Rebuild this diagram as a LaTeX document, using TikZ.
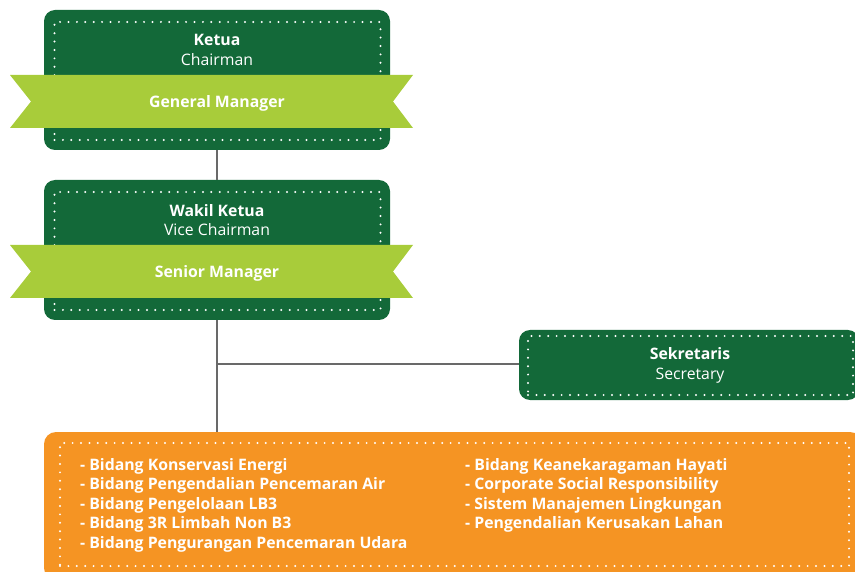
\documentclass[tikz,border=0pt]{standalone}
\usepackage{fontspec}
\setmainfont{Open Sans}
\usetikzlibrary{positioning}
\definecolor{boardgreen}{RGB}{19,105,57}
\definecolor{ribbongreen}{RGB}{168,204,58}
\definecolor{unitorange}{RGB}{245,148,35}
\definecolor{linkgray}{RGB}{105,105,105}
\tikzset{
  every node/.style={
    font=\fontsize{15.8}{19.5}\selectfont,
    text=white,
    inner sep=0pt
  },
  board/.style={
    shape=rectangle,
    fill=boardgreen,
    rounded corners=11pt
  },
  unitbox/.style={
    shape=rectangle,
    fill=unitorange,
    rounded corners=12pt
  },
  dotframe/.style={
    shape=rectangle,
    draw=white,
    line width=2.2pt,
    line cap=round,
    dash pattern=on 0pt off 8.4pt
  },
  ribbon/.style={
    fill=ribbongreen
  },
  link/.style={
    draw=linkgray,
    line width=1.6pt
  },
  title/.style={
    align=center
  }
}

\begin{document}
\begin{tikzpicture}[x=1pt,y=-1pt]
\useasboundingbox (0,0) rectangle (855,572);
\clip (0,0) rectangle (855,572);

% ketua
\node [board, minimum width=346pt, minimum height=140pt] (ketua) at (217,80) {};
\node [dotframe, minimum width=326pt, minimum height=118pt] (ketuaframe) at (217.5,81) {};
\node [title] (ketuatext) at (217,50) {\textbf{Ketua}\\Chairman};
\fill [ribbon] (10,75) -- (413,75) -- (393,101.5) -- (413,128) -- (10,128) -- (31,101.5) -- cycle;
\node (gm) at (217,103.5) {\textbf{General Manager}};

% wakil ketua
\node [board, minimum width=346pt, minimum height=140pt] (wakil) at (217,250) {};
\node [dotframe, minimum width=326pt, minimum height=118pt] (wakilframe) at (217.5,251) {};
\node [title] (wakiltext) at (217,220) {\textbf{Wakil Ketua}\\Vice Chairman};
\fill [ribbon] (10,245) -- (413,245) -- (393,271.5) -- (413,298) -- (10,298) -- (31,271.5) -- cycle;
\node (sm) at (217,273.5) {\textbf{Senior Manager}};

% sekretaris
\node [board, minimum width=340pt, minimum height=70pt] (sekr) at (689,365) {};
\node [dotframe, minimum width=325pt, minimum height=59pt] (sekrframe) at (690.5,365.5) {};
\node [title] (sekrtext) at (690,365.5) {\textbf{Sekretaris}\\Secretary};

% bidang
\node [unitbox, minimum width=818pt, minimum height=148pt] (units) at (453,506) {};
\node [dotframe, minimum width=789pt, minimum height=123pt] (unitsframe) at (454.5,504.5) {};
\node [align=left, anchor=north west] (leftlist) at (80,458) {\textbf{- Bidang Konservasi Energi}\\
  \textbf{- Bidang Pengendalian Pencemaran Air}\\
  \textbf{- Bidang Pengelolaan LB3}\\
  \textbf{- Bidang 3R Limbah Non B3}\\
  \textbf{- Bidang Pengurangan Pencemaran Udara}};
\node [align=left, anchor=north west] (rightlist) at (465,458) {\textbf{- Bidang Keanekaragaman Hayati}\\
  \textbf{- Corporate Social Responsibility}\\
  \textbf{- Sistem Manajemen Lingkungan}\\
  \textbf{- Pengendalian Kerusakan Lahan}};

% connectors
\coordinate (branch) at (217,364);
\draw [link] (ketua.south) -- (wakil.north);
\draw [link] (wakil.south) -- (wakil.south |- units.north);
\draw [link] (branch) -- (branch -| sekr.west);

\end{tikzpicture}
\end{document}
